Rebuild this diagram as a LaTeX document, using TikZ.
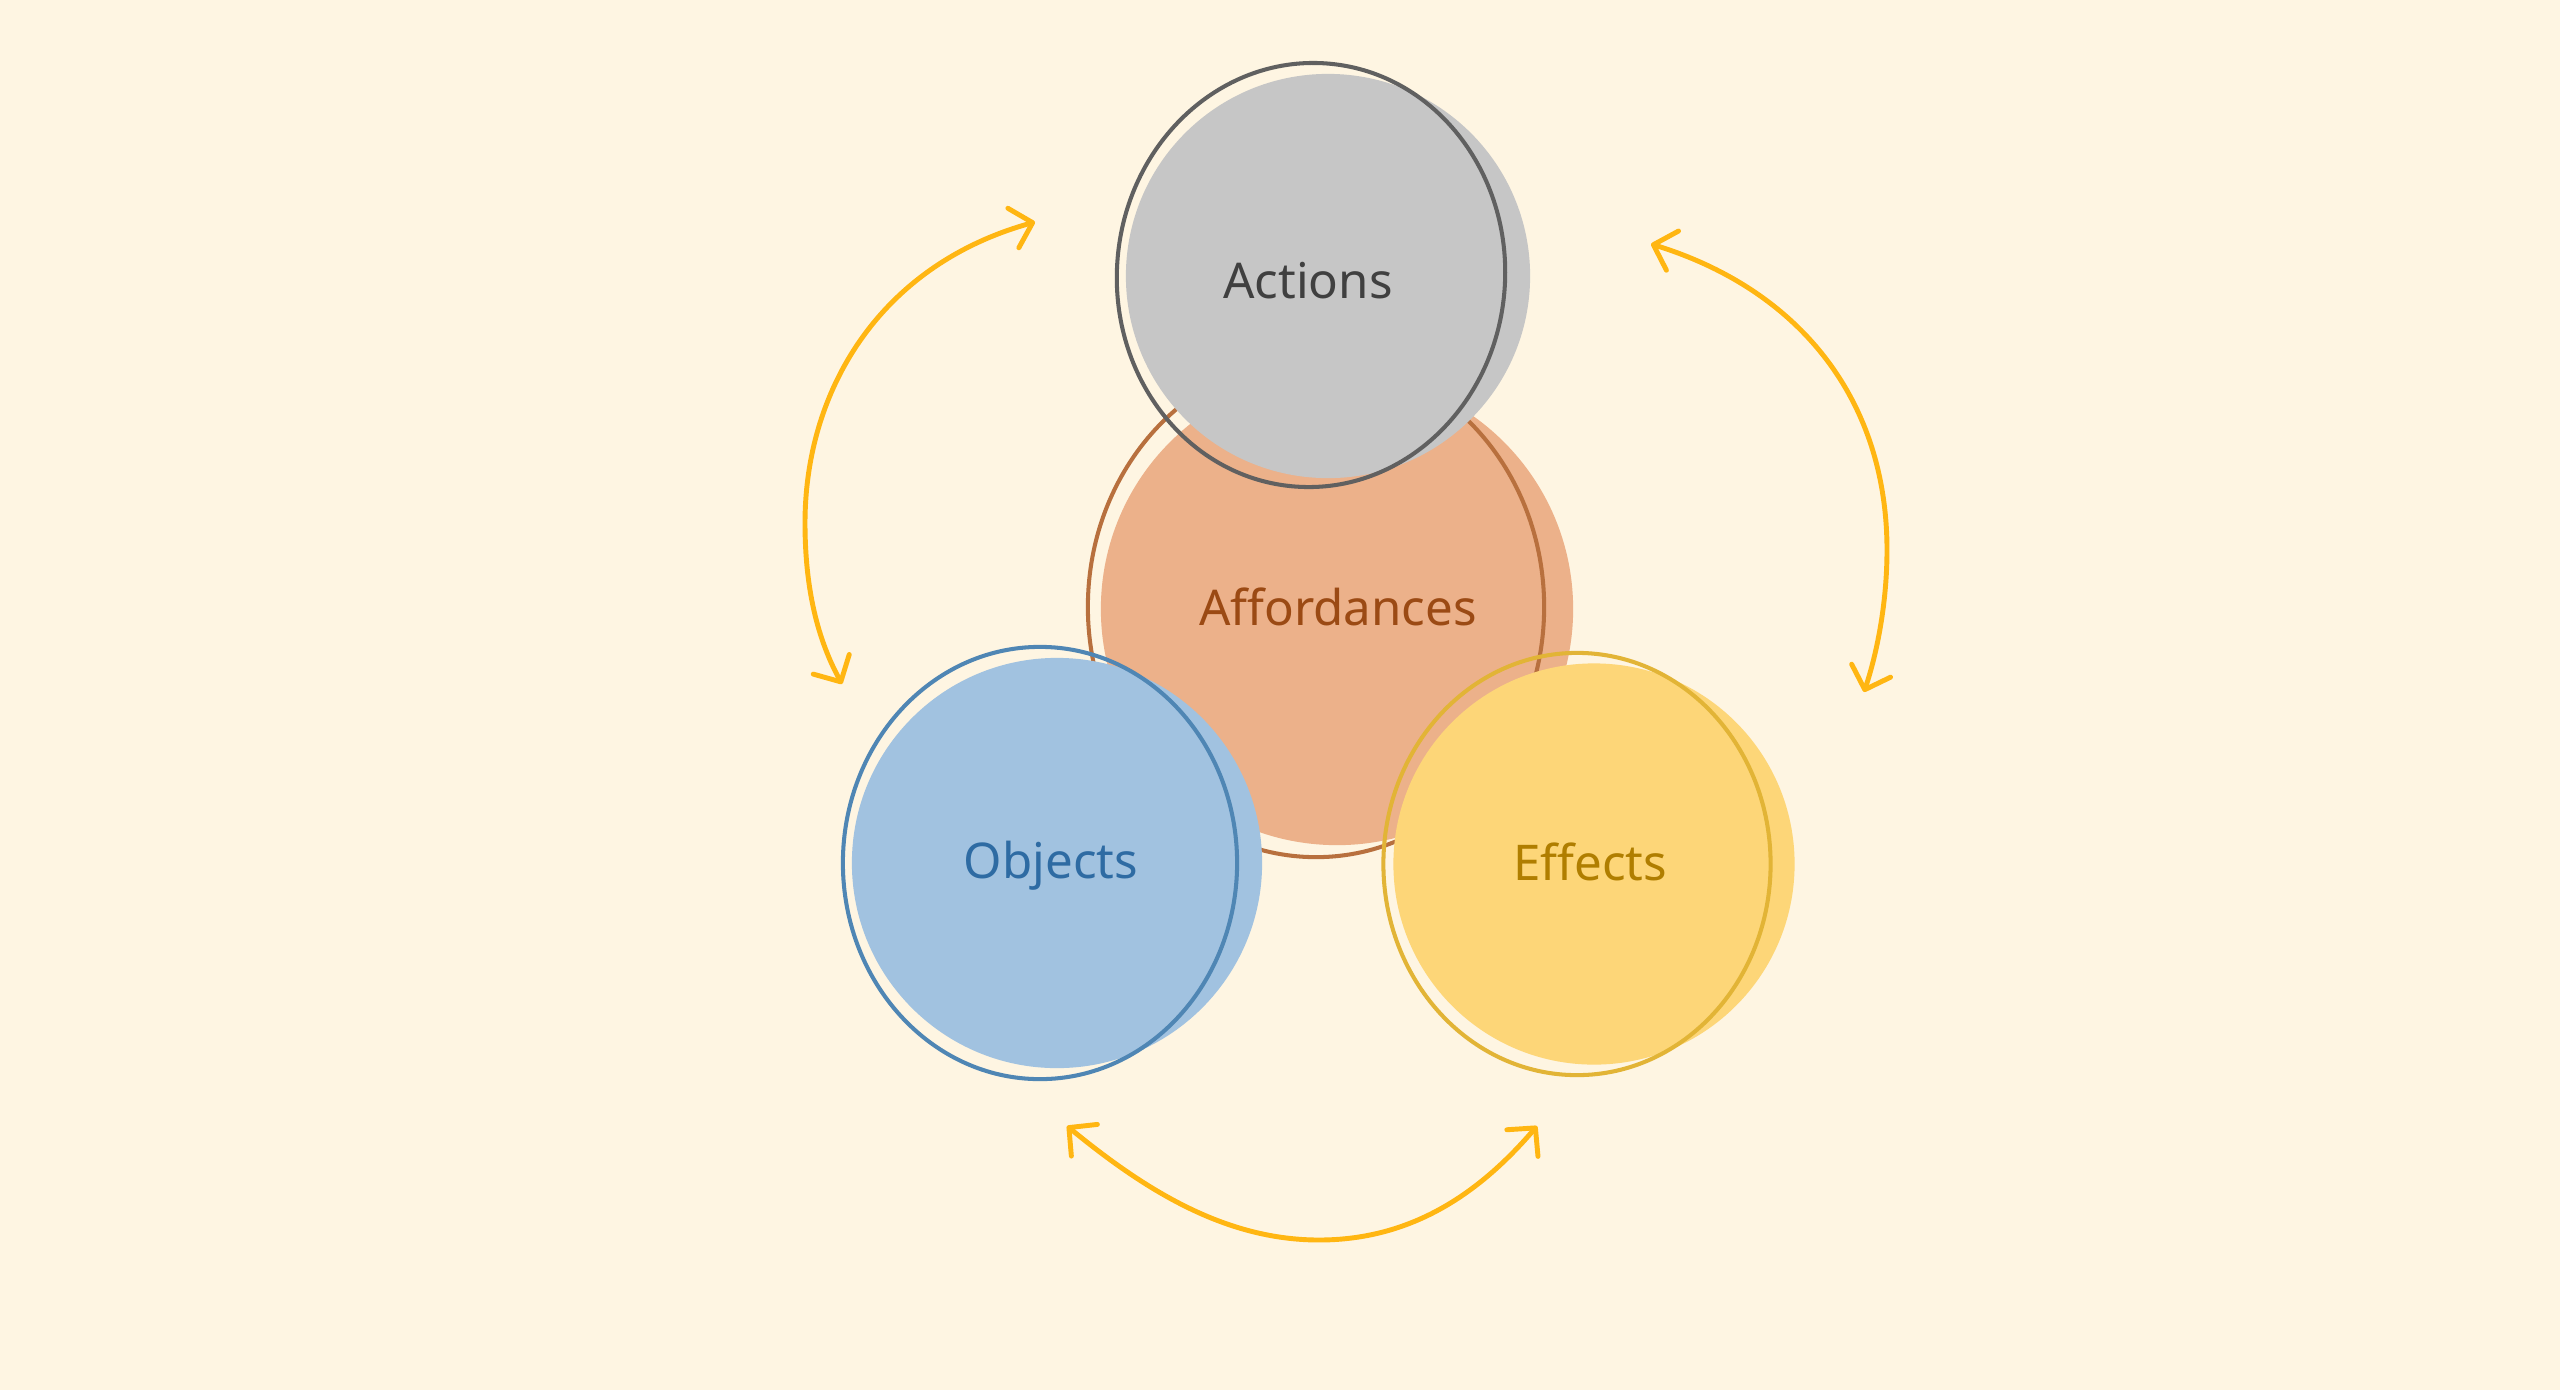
\documentclass[tikz,border=0pt]{standalone}
\usepackage{fontspec}
\setmainfont{Noto Sans}
\usetikzlibrary{arrows.meta,shapes.geometric}
\definecolor{paper}{HTML}{FEF5E2}
\definecolor{actfillc}{HTML}{C6C6C6}
\definecolor{actline}{HTML}{606060}
\definecolor{acttext}{HTML}{404040}
\definecolor{afffillc}{HTML}{ECB18A}
\definecolor{affline}{HTML}{B8703E}
\definecolor{afftext}{HTML}{9B4A14}
\definecolor{objfillc}{HTML}{A1C2E0}
\definecolor{objline}{HTML}{4F86B4}
\definecolor{objtext}{HTML}{2E6BA3}
\definecolor{efffillc}{HTML}{FDD678}
\definecolor{effline}{HTML}{E2B436}
\definecolor{efftext}{HTML}{B07E00}
\definecolor{arrowc}{HTML}{FFB612}
\begin{document}
\begin{tikzpicture}[
            x=0.01cm,
            y=-0.01cm,
            blob/.style={circle, draw=none, inner sep=0pt},
            ring/.style={ellipse, line width=1.15pt, inner sep=0pt},
            lbl/.style={font=\fontsize{14}{16}\selectfont, inner sep=0pt, anchor=base},
            link/.style={draw=arrowc, line width=1.4pt, line cap=round, <->,
                >={Straight Barb[length=0.2cm, width=0.41cm, line cap=round, line join=round]}}
        ]
        \fill[paper] (0,0) rectangle (2560,1390);
        \useasboundingbox (0,0) rectangle (2560,1390);
        % centre circle
        \node[blob, fill=afffillc, minimum size=4.72cm] (afffill) at (1337,609) {};
        \node[ring, draw=affline, minimum width=4.56cm, minimum height=5.0cm] (affring) at (1316,607) {};
        \node[lbl, text=afftext] (afflabel) at (1338,625) {Affordances};
        % top circle
        \node[blob, fill=actfillc, minimum size=4.04cm] (actfill) at (1328,276) {};
        \node[ring, draw=actline, minimum width=3.88cm, minimum height=4.24cm, rotate=-4] (actring) at (1311,275) {};
        \node[lbl, text=acttext] (actlabel) at (1308,298) {Actions};
        % left circle
        \node[blob, fill=objfillc, minimum size=4.1cm] (objfill) at (1057,863) {};
        \node[ring, draw=objline, minimum width=3.94cm, minimum height=4.32cm] (objring) at (1040,863) {};
        \node[lbl, text=objtext] (objlabel) at (1051,878) {Objects};
        % right circle
        \node[blob, fill=efffillc, minimum size=4.01cm] (efffill) at (1594,864) {};
        \node[ring, draw=effline, minimum width=3.87cm, minimum height=4.22cm] (effring) at (1577,864) {};
        \node[lbl, text=efftext] (efflabel) at (1590,880) {Effects};
        % arrow ends
        \coordinate (la) at (1035,222);
        \coordinate (lb) at (842,684);
        \coordinate (ra) at (1651,244);
        \coordinate (rb) at (1864,692);
        \coordinate (ba) at (1067,1126);
        \coordinate (bb) at (1537,1126);
        \draw[link] (la) .. controls (880,265) and (805,390) .. (805,523)
            .. controls (805,590) and (818,640) .. (lb);
        \draw[link] (ra) .. controls (1800,290) and (1887,400) .. (1887,550)
            .. controls (1887,600) and (1878,650) .. (rb);
        \draw[link] (ba) .. controls (1145,1190) and (1225,1240) .. (1319,1240)
            .. controls (1410,1240) and (1478,1195) .. (bb);
    \end{tikzpicture}
\end{document}
